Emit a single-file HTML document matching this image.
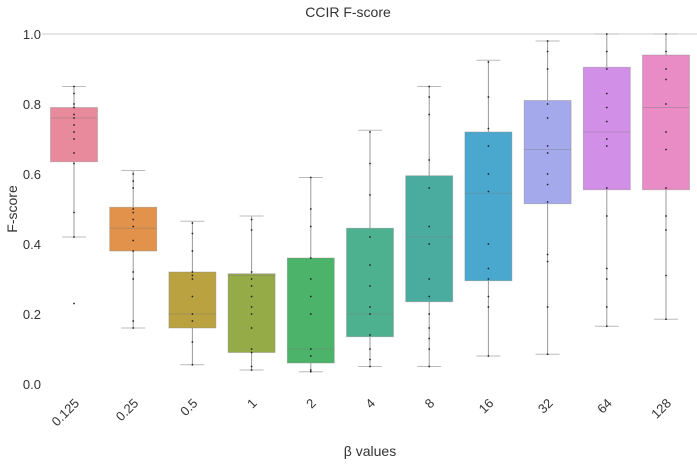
<!DOCTYPE html>
<html><head><meta charset="utf-8"><style>
body{margin:0;background:#fff;font-family:"Liberation Sans",sans-serif}
</style></head><body>
<svg id="chart" width="697" height="462" xmlns="http://www.w3.org/2000/svg" font-family="Liberation Sans, sans-serif"></svg>
<script>
const categories=["0.125","0.25","0.5","1","2","4","8","16","32","64","128"];
const q1=[0.635,0.38,0.16,0.09,0.06,0.135,0.235,0.295,0.515,0.555,0.555];
const medians=[0.76,0.445,0.2,0.31,0.1,0.2,0.42,0.545,0.67,0.72,0.79];
const q3=[0.79,0.505,0.32,0.315,0.36,0.445,0.595,0.72,0.81,0.905,0.94];
const whiskerLow=[0.42,0.16,0.055,0.04,0.035,0.05,0.05,0.08,0.085,0.165,0.185];
const whiskerHigh=[0.85,0.61,0.465,0.48,0.59,0.725,0.85,0.925,0.98,1.0,1.0];
const points=[
[0.23,0.42,0.49,0.63,0.66,0.7,0.72,0.74,0.76,0.77,0.79,0.8,0.83,0.85],
[0.16,0.18,0.3,0.32,0.38,0.41,0.45,0.47,0.49,0.5,0.56,0.58,0.6],
[0.055,0.12,0.18,0.2,0.25,0.3,0.31,0.32,0.38,0.43,0.46],
[0.04,0.05,0.09,0.1,0.16,0.2,0.22,0.25,0.28,0.3,0.32,0.44,0.47],
[0.035,0.04,0.08,0.1,0.2,0.25,0.3,0.36,0.45,0.5,0.59],
[0.05,0.07,0.1,0.14,0.2,0.22,0.28,0.34,0.42,0.54,0.63,0.72],
[0.05,0.1,0.13,0.16,0.2,0.25,0.3,0.4,0.45,0.56,0.64,0.77,0.82,0.85],
[0.08,0.22,0.25,0.3,0.33,0.4,0.55,0.6,0.68,0.73,0.82,0.92],
[0.085,0.22,0.35,0.37,0.52,0.57,0.6,0.66,0.68,0.76,0.8,0.9,0.95,0.98],
[0.165,0.22,0.3,0.33,0.48,0.56,0.68,0.7,0.75,0.79,0.83,0.9,0.95,1.0],
[0.185,0.31,0.44,0.48,0.56,0.67,0.72,0.8,0.87,0.9,0.95,1.0]
];
const yTicks=[0.0,0.2,0.4,0.6,0.8,1.0];
const colors=["#e98a9c","#e2924b","#bba241","#95ab47","#4cb46a","#4db18f","#4aac9f","#4aa8cf","#a4a9ec","#d28fe8","#e98bc5"];
const svg=document.getElementById('chart');
const NS="http://www.w3.org/2000/svg";
const x=i=>74+i*59.2;
const y=v=>384-v*350;
function mk(tag,attrs,parent){const e=document.createElementNS(NS,tag);for(const k in attrs)e.setAttribute(k,attrs[k]);(parent||svg).appendChild(e);return e;}
let t=mk('text',{x:348,y:17,'text-anchor':'middle','font-size':14,fill:'#333'});t.textContent="CCIR F-score";


let gl=mk('line',{x1:42,x2:697,y1:y(1),y2:y(1),stroke:'#ccc'});


yTicks.forEach(v=>{const e=mk('text',{x:41,y:y(v)+5,'text-anchor':'end','font-size':13,fill:'#333'});e.textContent=v.toFixed(1);

});
t=mk('text',{transform:'translate(17,209) rotate(-90)','text-anchor':'middle','font-size':14,fill:'#333'});t.textContent="F-score";


t=mk('text',{x:370,y:456,'text-anchor':'middle','font-size':14,fill:'#333'});t.textContent="β values";


categories.forEach((c,i)=>{
 const g=mk('g',{});
 
 
 const cx=x(i),w=47;
 mk('line',{x1:cx,x2:cx,y1:y(whiskerLow[i]),y2:y(whiskerHigh[i]),stroke:'#999','stroke-width':1},g);
 mk('line',{x1:cx-12,x2:cx+12,y1:y(whiskerLow[i]),y2:y(whiskerLow[i]),stroke:'#bbb'},g);
 mk('line',{x1:cx-12,x2:cx+12,y1:y(whiskerHigh[i]),y2:y(whiskerHigh[i]),stroke:'#bbb'},g);
 mk('rect',{x:cx-w/2,y:y(q3[i]),width:w,height:y(q1[i])-y(q3[i]),fill:colors[i],stroke:'#888','stroke-width':0.8,'stroke-opacity':0.5},g);
 mk('line',{x1:cx-w/2,x2:cx+w/2,y1:y(medians[i]),y2:y(medians[i]),stroke:'#777','stroke-width':0.8,'stroke-opacity':0.5},g);
 points[i].forEach(p=>mk('circle',{cx:cx,cy:y(p),r:0.9,fill:'#222'},g));
 const l=mk('text',{transform:`translate(${cx+6},${404}) rotate(-45)`,'text-anchor':'end','font-size':13,fill:'#333'});
 l.textContent=c;
 
 
});
</script>
</body></html>
